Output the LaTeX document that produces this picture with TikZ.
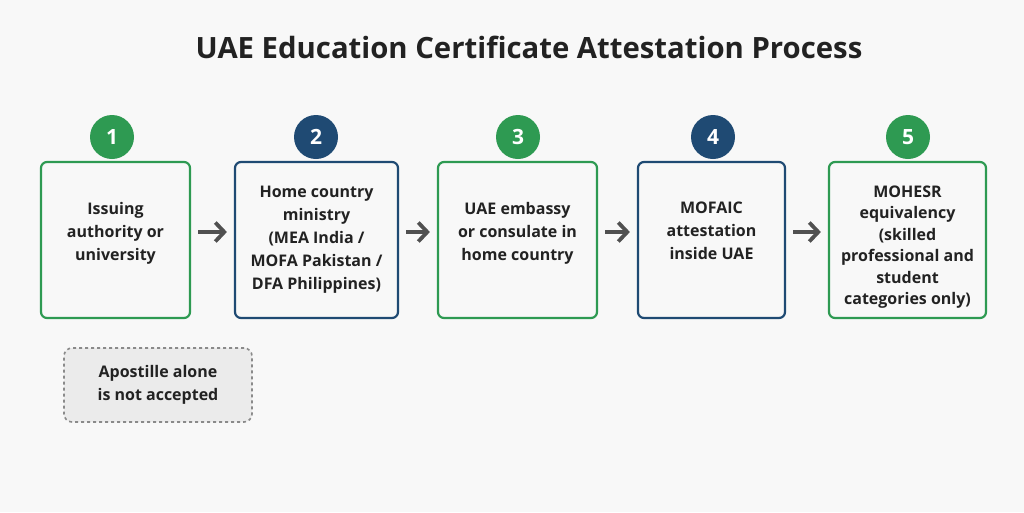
\documentclass[tikz,border=0pt]{standalone}
\usepackage{fontspec}
\setmainfont{Open Sans}
\usetikzlibrary{arrows.meta}
\definecolor{bgcol}{HTML}{F8F8F8}
\definecolor{stepgreen}{HTML}{2E9A52}
\definecolor{stepblue}{HTML}{1F4A73}
\definecolor{txtcol}{HTML}{222222}
\definecolor{arrcol}{HTML}{505050}
\definecolor{notefill}{HTML}{EBEBEB}
\definecolor{notedraw}{HTML}{8A8A8A}
\begin{document}
\begin{tikzpicture}[x=1pt, y=-1pt,
    stepbox/.style={draw, line width=2.2pt, rounded corners=6pt, fill=bgcol,
        minimum height=156pt, align=center, text=txtcol,
        font=\fontsize{16}{23}\selectfont\bfseries},
    liftup/.style={text depth=18pt},
    numdot/.style={circle, minimum size=44pt, inner sep=0pt, text=white,
        font=\fontsize{21}{24}\selectfont\bfseries},
    flow/.style={-{Straight Barb[length=9pt, width=19pt]}, line width=3.8pt,
        color=arrcol, shorten <=7pt, shorten >=7pt}]
    \fill[bgcol] (0, 0) rectangle (1024, 512);

    \node[font=\fontsize{29.3}{34}\selectfont\bfseries, text=txtcol] (title) at (529, 47) {UAE Education Certificate Attestation Process};

    % steps
    \node[stepbox, liftup, draw=stepgreen, minimum width=149pt] (s1) at (115.5, 240) {Issuing\\authority or\\university};
    \node[stepbox, draw=stepblue, minimum width=163pt] (s2) at (316.5, 240) {Home country\\ministry\\(MEA India /\\MOFA Pakistan /\\DFA Philippines)};
    \node[stepbox, liftup, draw=stepgreen, minimum width=159pt] (s3) at (517.5, 240) {UAE embassy\\or consulate in\\home country};
    \node[stepbox, liftup, draw=stepblue, minimum width=147pt] (s4) at (711.5, 240) {MOFAIC\\attestation\\inside UAE};
    \node[stepbox, draw=stepgreen, minimum width=157pt,
        font=\fontsize{16}{21.5}\selectfont\bfseries] (s5) at (907.5, 240) {\rule{0pt}{26pt}MOHESR\\equivalency\\(skilled\\professional and\\student\\categories only)};

    \node[numdot, fill=stepgreen] (n1) at (112, 137) {1};
    \node[numdot, fill=stepblue] (n2) at (316, 137) {2};
    \node[numdot, fill=stepgreen] (n3) at (518, 137) {3};
    \node[numdot, fill=stepblue] (n4) at (713, 137) {4};
    \node[numdot, fill=stepgreen] (n5) at (908, 137) {5};

    \draw[flow] ([yshift=8pt]s1.east) -- ([yshift=8pt]s2.west);
    \draw[flow] ([yshift=8pt]s2.east) -- ([yshift=8pt]s3.west);
    \draw[flow] ([yshift=8pt]s3.east) -- ([yshift=8pt]s4.west);
    \draw[flow] ([yshift=8pt]s4.east) -- ([yshift=8pt]s5.west);

    % note
    \node[draw=notedraw, fill=notefill, dashed, line width=1.6pt, rounded corners=8pt,
        minimum width=188pt, minimum height=74pt, align=center, text=txtcol,
        font=\fontsize{16}{23}\selectfont\bfseries] (note) at (158, 385) {Apostille alone\\is not accepted};
\end{tikzpicture}
\end{document}
